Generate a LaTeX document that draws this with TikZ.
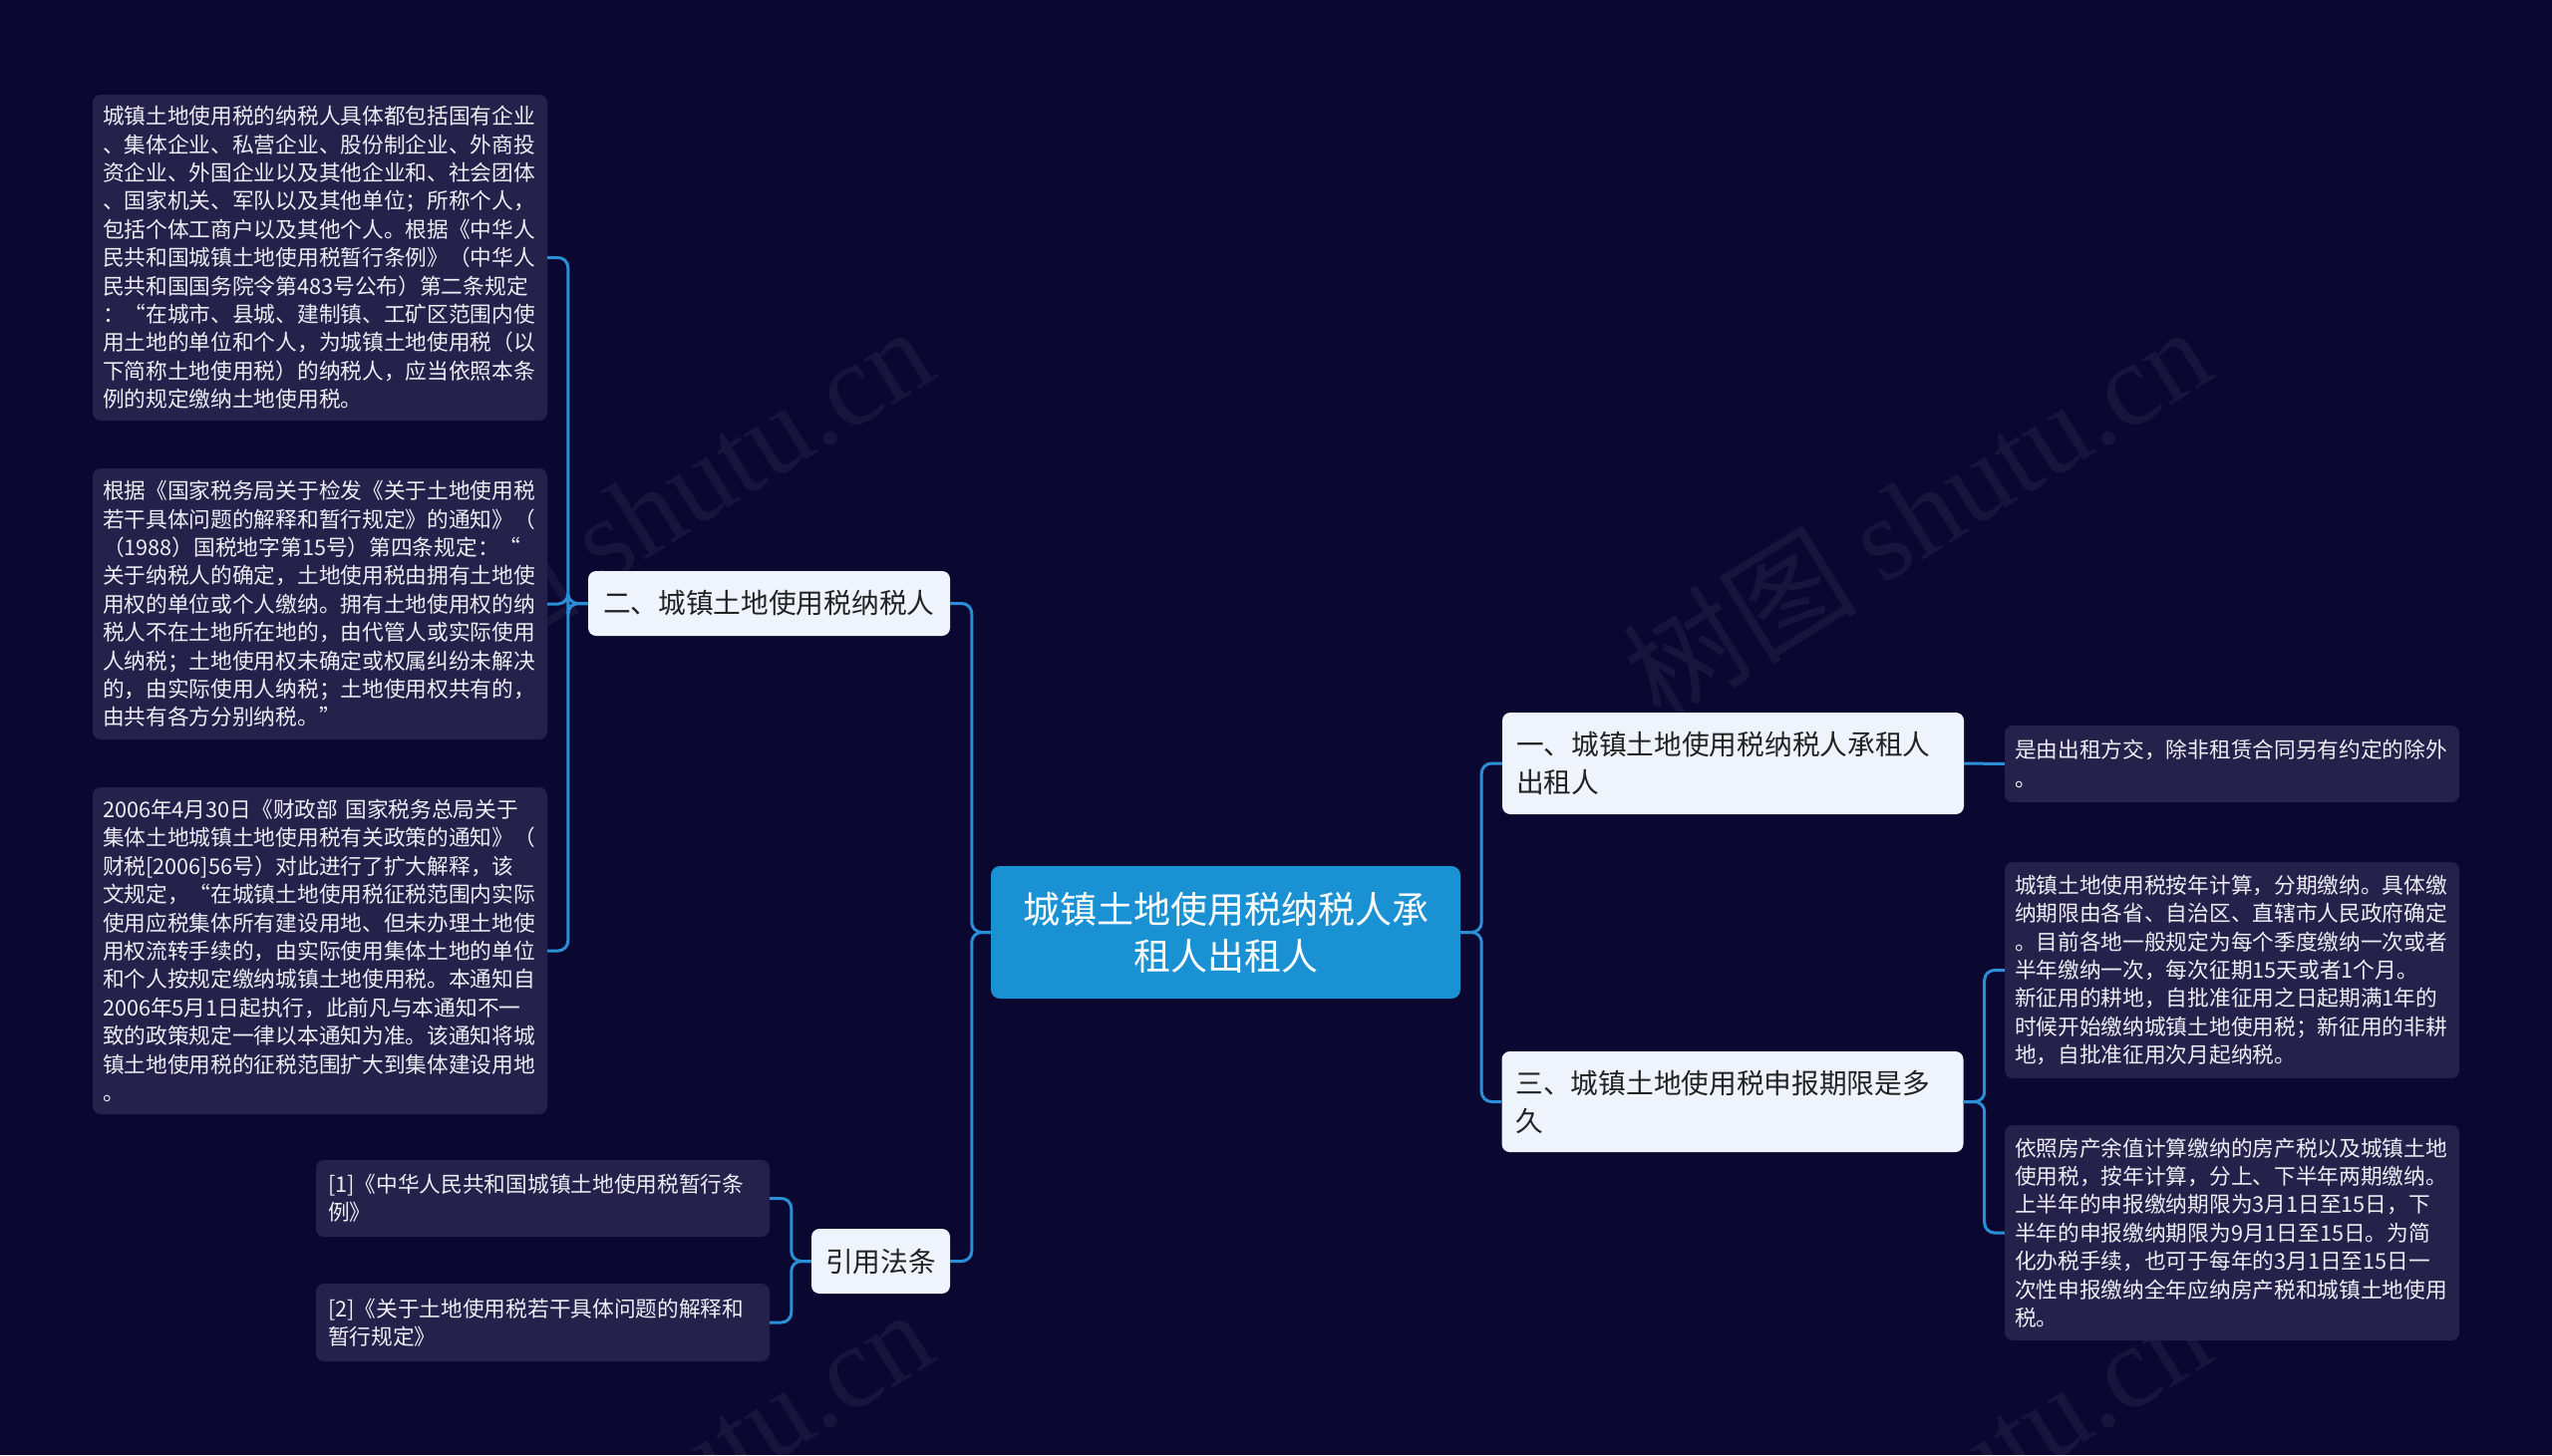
\documentclass[tikz,border=0pt]{standalone}
\usepackage{fontspec}
\setmainfont{Noto Sans CJK SC}
\newfontfamily\wmlatin{Liberation Serif}
\definecolor{bgc}{HTML}{0A0730}
\definecolor{leafc}{HTML}{24224A}
\definecolor{midc}{HTML}{EEF3FC}
\definecolor{rootc}{HTML}{1A91D3}
\definecolor{linec}{HTML}{2A8FD6}
\definecolor{leaftxt}{HTML}{EDEDF5}
\definecolor{midtxt}{HTML}{222222}
\begin{document}
\begin{tikzpicture}[x=1pt,y=1pt,
  leafbox/.style={draw=none,fill=leafc,rounded corners=8pt,text=leaftxt,align=left,
    text width=436pt,inner xsep=10pt,inner ysep=0pt,
    font=\fontsize{21.7}{28.4}\selectfont},
  midbox/.style={draw=none,fill=midc,rounded corners=8pt,text=midtxt,align=left,
    inner ysep=0pt,font=\fontsize{27.7}{38}\selectfont},
  rootbox/.style={draw=none,fill=rootc,rounded corners=9pt,text=white,align=center,
    text width=411pt,inner xsep=30pt,inner ysep=0pt,minimum height=133pt,
    font=\fontsize{37}{47}\selectfont},
  conn/.style={draw=linec,line width=3pt,rounded corners=10pt},
  wm/.style={text=white,opacity=0.06,rotate=32,font=\fontsize{118}{118}\selectfont}
]
\useasboundingbox (0,0) rectangle (2560,-1460);
\fill[bgc] (0,0) rectangle (2560,-1460);

% watermarks
\node[wm] (wm1) at (640,-514) {树图 {\wmlatin shutu.cn}};
\node[wm] (wm2) at (1922,-514) {树图 {\wmlatin shutu.cn}};
\node[wm] (wm3) at (640,-1500) {树图 {\wmlatin shutu.cn}};
\node[wm] (wm4) at (1922,-1500) {树图 {\wmlatin shutu.cn}};

% root
\node[rootbox] (root) at (1229.5,-935.5) {城镇土地使用税纳税人承\\租人出租人};

% level 1
\node[midbox,text width=333pt,inner xsep=15pt,minimum height=65pt] (n2) at (771.5,-605.5) {二、城镇土地使用税纳税人};
\node[midbox,text width=111pt,inner xsep=14pt,minimum height=65pt] (ref) at (883.5,-1265.5) {引用法条};
\node[midbox,text width=435pt,inner xsep=14pt,minimum height=102pt] (n1) at (1738.5,-766) {一、城镇土地使用税纳税人承租人\\出租人};
\node[midbox,text width=435pt,inner xsep=14pt,minimum height=101pt] (n3) at (1738,-1105.5) {三、城镇土地使用税申报期限是多\\久};

% left leaves
\node[leafbox,minimum height=327pt] (l1) at (321,-258.5) {城镇土地使用税的纳税人具体都包括国有企业\\、集体企业、私营企业、股份制企业、外商投\\资企业、外国企业以及其他企业和、社会团体\\、国家机关、军队以及其他单位；所称个人，\\包括个体工商户以及其他个人。根据《中华人\\民共和国城镇土地使用税暂行条例》（中华人\\民共和国国务院令第483号公布）第二条规定\\：“在城市、县城、建制镇、工矿区范围内使\\用土地的单位和个人，为城镇土地使用税（以\\下简称土地使用税）的纳税人，应当依照本条\\例的规定缴纳土地使用税。};
\node[leafbox,minimum height=272pt] (l2) at (321,-606) {根据《国家税务局关于检发《关于土地使用税\\若干具体问题的解释和暂行规定》的通知》（\\（1988）国税地字第15号）第四条规定：“\\关于纳税人的确定，土地使用税由拥有土地使\\用权的单位或个人缴纳。拥有土地使用权的纳\\税人不在土地所在地的，由代管人或实际使用\\人纳税；土地使用权未确定或权属纠纷未解决\\的，由实际使用人纳税；土地使用权共有的，\\由共有各方分别纳税。”};
\node[leafbox,minimum height=328pt] (l3) at (321,-954) {2006年4月30日《财政部 国家税务总局关于\\集体土地城镇土地使用税有关政策的通知》（\\财税[2006]56号）对此进行了扩大解释，该\\文规定，“在城镇土地使用税征税范围内实际\\使用应税集体所有建设用地、但未办理土地使\\用权流转手续的，由实际使用集体土地的单位\\和个人按规定缴纳城镇土地使用税。本通知自\\2006年5月1日起执行，此前凡与本通知不一\\致的政策规定一律以本通知为准。该通知将城\\镇土地使用税的征税范围扩大到集体建设用地\\。};

% reference leaves
\node[leafbox,text width=431pt,inner xsep=12pt,minimum height=77pt] (rf1) at (544.5,-1202.5) {[1]《中华人民共和国城镇土地使用税暂行条\\例》};
\node[leafbox,text width=431pt,inner xsep=12pt,minimum height=78pt] (rf2) at (544.5,-1327) {[2]《关于土地使用税若干具体问题的解释和\\暂行规定》};

% right leaves
\node[leafbox,minimum height=77pt] (r1) at (2239,-766.5) {是由出租方交，除非租赁合同另有约定的除外\\。};
\node[leafbox,minimum height=217pt] (r2) at (2239,-973.5) {城镇土地使用税按年计算，分期缴纳。具体缴\\纳期限由各省、自治区、直辖市人民政府确定\\。目前各地一般规定为每个季度缴纳一次或者\\半年缴纳一次，每次征期15天或者1个月。\\新征用的耕地，自批准征用之日起期满1年的\\时候开始缴纳城镇土地使用税；新征用的非耕\\地，自批准征用次月起纳税。};
\node[leafbox,minimum height=216pt] (r3) at (2239,-1237) {依照房产余值计算缴纳的房产税以及城镇土地\\使用税，按年计算，分上、下半年两期缴纳。\\上半年的申报缴纳期限为3月1日至15日，下\\半年的申报缴纳期限为9月1日至15日。为简\\化办税手续，也可于每年的3月1日至15日一\\次性申报缴纳全年应纳房产税和城镇土地使用\\税。};

% connectors
\draw[conn] (root.west) -- ++(-19,0) |- (n2.east);
\draw[conn] (root.west) -- ++(-19,0) |- (ref.east);
\draw[conn] (root.east) -- ++(21,0) |- (n1.west);
\draw[conn] (root.east) -- ++(21,0) |- (n3.west);
\draw[conn] (n2.west) -- ++(-20,0) |- (l1.east);
\draw[conn] (n2.west) -- ++(-20,0) |- (l2.east);
\draw[conn] (n2.west) -- ++(-20,0) |- (l3.east);
\draw[conn] (ref.west) -- ++(-20,0) |- (rf1.east);
\draw[conn] (ref.west) -- ++(-20,0) |- (rf2.east);
\draw[conn] (n1.east) -- (r1.west);
\draw[conn] (n3.east) -- ++(21,0) |- (r2.west);
\draw[conn] (n3.east) -- ++(21,0) |- (r3.west);
\end{tikzpicture}
\end{document}
